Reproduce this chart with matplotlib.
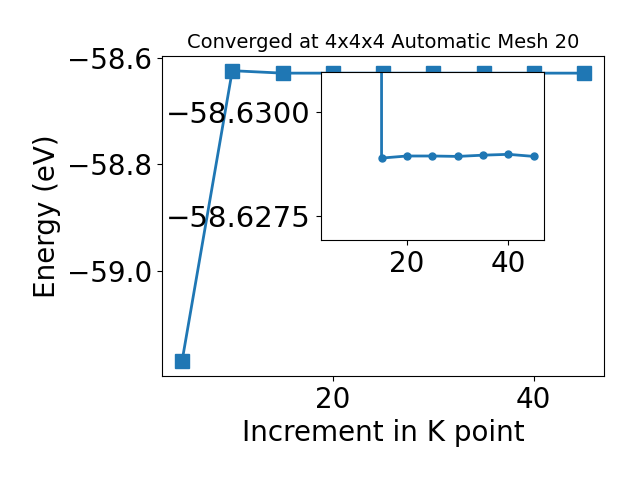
import matplotlib
matplotlib.use("Agg")
import matplotlib.pyplot as plt
from matplotlib.ticker import FuncFormatter

# Main convergence data
k_points = [5, 10, 15, 20, 25, 30, 35, 40, 45]
energy = [-59.170, -58.624, -58.6286, -58.6286, -58.6286, -58.6286, -58.6286, -58.6286, -58.6286]

# Inset (zoomed) data
inset_k = [15, 15, 20, 25, 30, 35, 40, 45]
inset_e = [-58.6400, -58.62889, -58.62894, -58.62894, -58.62893, -58.62896, -58.62898, -58.62893]
inset_yticks = [-58.6300, -58.6275]
xticks = [20, 40]

plt.rcParams['font.size'] = 20

fig = plt.figure(figsize=(6.4, 4.8), dpi=100)
ax = fig.add_axes([0.253, 0.217, 0.691, 0.666])
ax.plot(k_points, energy, 's-', color='#1f77b4', markersize=10, linewidth=2)
ax.set_title('Converged at 4x4x4 Automatic Mesh 20', fontsize=14)
ax.set_xlabel('Increment in K point')
ax.set_ylabel('Energy (eV)')
ax.set_yticks([-58.6, -58.8, -59.0])
ax.set_xticks(xticks)

axins = fig.add_axes([0.501, 0.5, 0.349, 0.35])
axins.plot(inset_k, inset_e, 'o-', color='#1f77b4', markersize=5, linewidth=2)
axins.set_xlim(ax.get_xlim())
axins.set_ylim(-58.62692, -58.63096)
axins.set_yticks(inset_yticks)
axins.yaxis.set_major_formatter(FuncFormatter(lambda v, p: ('%.4f' % v).replace('-', '\u2212')))
axins.tick_params(axis='y', labelsize=21)
axins.set_xticks(xticks)

fig.savefig('out.png', dpi=100)
